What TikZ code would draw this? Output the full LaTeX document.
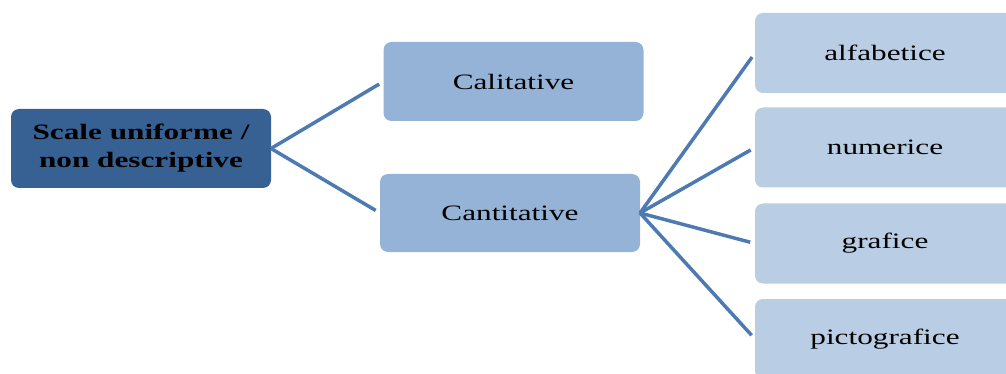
\documentclass[tikz,border=0pt]{standalone}
\usepackage{fontspec}
\setmainfont{Liberation Serif}
\usepackage{graphicx}
\definecolor{rootfill}{HTML}{386193}
\definecolor{midfill}{HTML}{95B3D7}
\definecolor{leaffill}{HTML}{B9CDE5}
\definecolor{linkcol}{HTML}{4D7AB3}
\newcommand{\widetext}[1]{\scalebox{1.42}[1]{#1}}
\begin{document}
\begin{tikzpicture}[x=1pt,y=-1pt,
  box/.style={rectangle, rounded corners=8pt, inner sep=0pt, outer sep=0pt,
    minimum width=260pt, minimum height=79pt, align=center,
    font=\fontsize{22}{28}\selectfont},
  rootbox/.style={box, fill=rootfill, font=\fontsize{22}{28}\selectfont\bfseries},
  midbox/.style={box, fill=midfill},
  leafbox/.style={box, fill=leaffill, minimum height=80pt},
  link/.style={draw=linkcol, line width=3.5pt, shorten >=5pt}]
\useasboundingbox (0,0) rectangle (1006,374);
\clip (0,0) rectangle (1006,374);

% root of the classification
\node[rootbox] (root) at (141,148.5) {\widetext{Scale uniforme /}\\\widetext{non descriptive}};

% second level
\node[midbox] (cal) at (513.5,81.5) {\widetext{Calitative}};
\node[midbox, minimum height=78pt] (cant) at (510,213) {\widetext{Cantitative}};

% third level
\node[leafbox] (alf) at (885,53) {\widetext{alfabetice}};
\node[leafbox] (num) at (885,147.5) {\widetext{numerice}};
\node[leafbox] (gra) at (885,243.5) {\widetext{grafice}};
\node[leafbox] (pic) at (885,339) {\widetext{pictografice}};

% connectors
\draw[link] (root.east) -- (cal.west);
\draw[link] (root.east) -- (cant.west);
\foreach \t in {alf,num,gra,pic}
  \draw[link] (cant.east) -- (\t.west);
\end{tikzpicture}
\end{document}
